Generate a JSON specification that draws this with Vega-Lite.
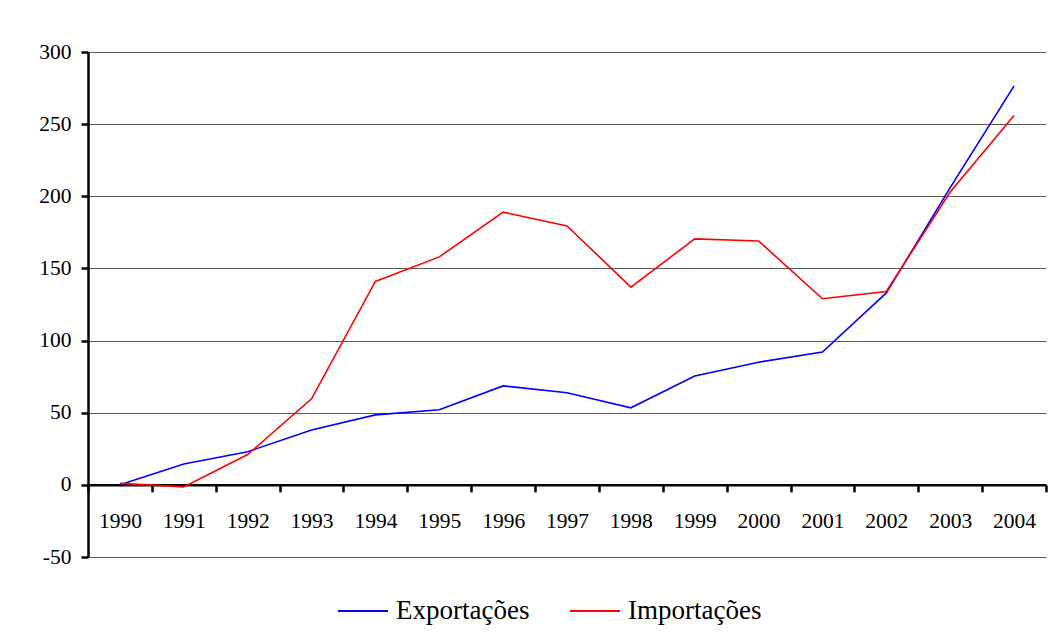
{
  "$schema": "https://vega.github.io/schema/vega-lite/v6.json",
  "width": 958,
  "height": 505,
  "autosize": {"type": "none"},
  "padding": {"left": 88, "top": 52, "right": 12, "bottom": 80},
  "background": "white",
  "config": {
    "view": {"stroke": null},
    "font": "Liberation Serif",
    "axis": {"labelFont": "Liberation Serif"},
    "legend": {"labelFont": "Liberation Serif"}
  },
  "data": {
    "values": [
      {"ano": "1990", "serie": "Exportações", "valor": 0},
      {"ano": "1991", "serie": "Exportações", "valor": 14.5},
      {"ano": "1992", "serie": "Exportações", "valor": 23},
      {"ano": "1993", "serie": "Exportações", "valor": 38},
      {"ano": "1994", "serie": "Exportações", "valor": 48.5},
      {"ano": "1995", "serie": "Exportações", "valor": 52},
      {"ano": "1996", "serie": "Exportações", "valor": 68.6},
      {"ano": "1997", "serie": "Exportações", "valor": 63.8},
      {"ano": "1998", "serie": "Exportações", "valor": 53.4},
      {"ano": "1999", "serie": "Exportações", "valor": 75.5},
      {"ano": "2000", "serie": "Exportações", "valor": 85},
      {"ano": "2001", "serie": "Exportações", "valor": 92},
      {"ano": "2002", "serie": "Exportações", "valor": 133},
      {"ano": "2003", "serie": "Exportações", "valor": 206},
      {"ano": "2004", "serie": "Exportações", "valor": 276.5},
      {"ano": "1990", "serie": "Importações", "valor": 1},
      {"ano": "1991", "serie": "Importações", "valor": -1.4},
      {"ano": "1992", "serie": "Importações", "valor": 21},
      {"ano": "1993", "serie": "Importações", "valor": 59.6},
      {"ano": "1994", "serie": "Importações", "valor": 141},
      {"ano": "1995", "serie": "Importações", "valor": 158},
      {"ano": "1996", "serie": "Importações", "valor": 189},
      {"ano": "1997", "serie": "Importações", "valor": 179.5},
      {"ano": "1998", "serie": "Importações", "valor": 137},
      {"ano": "1999", "serie": "Importações", "valor": 170.5},
      {"ano": "2000", "serie": "Importações", "valor": 169},
      {"ano": "2001", "serie": "Importações", "valor": 129},
      {"ano": "2002", "serie": "Importações", "valor": 134},
      {"ano": "2003", "serie": "Importações", "valor": 203},
      {"ano": "2004", "serie": "Importações", "valor": 256}
    ]
  },
  "mark": {"type": "line", "strokeWidth": 1.6},
  "encoding": {
    "x": {
      "field": "ano",
      "type": "ordinal",
      "scale": {"type": "band", "paddingInner": 0, "paddingOuter": 0},
      "axis": {
        "title": null,
        "offset": -72.14,
        "tickBand": "extent",
        "labelAngle": 0,
        "labelFont": "Liberation Serif",
        "labelFontSize": 21.5,
        "labelColor": "black",
        "labelPadding": 19,
        "tickSize": 7,
        "tickWidth": 2.5,
        "tickColor": "black",
        "domainColor": "black",
        "domainWidth": 2.5,
        "grid": false
      }
    },
    "y": {
      "field": "valor",
      "type": "quantitative",
      "scale": {"domain": [-50, 300], "nice": false, "zero": false},
      "axis": {
        "title": null,
        "values": [-50, 0, 50, 100, 150, 200, 250, 300],
        "labelExpr": "'' + datum.value",
        "labelFont": "Liberation Serif",
        "labelFontSize": 21.5,
        "labelColor": "black",
        "labelPadding": 10,
        "tickSize": 7,
        "tickWidth": 2.5,
        "tickColor": "black",
        "domainColor": "black",
        "domainWidth": 2.5,
        "grid": true,
        "gridColor": "#5a5a5a",
        "gridWidth": 1,
        "gridOpacity": 1
      }
    },
    "color": {
      "field": "serie",
      "type": "nominal",
      "scale": {"domain": ["Exportações", "Importações"], "range": ["#0000ff", "#ff0000"]},
      "legend": {
        "title": null,
        "orient": "none",
        "direction": "horizontal",
        "legendX": 249,
        "legendY": 533,
        "symbolType": "stroke",
        "symbolSize": 2500,
        "symbolStrokeWidth": 2,
        "labelFont": "Liberation Serif",
        "labelFontSize": 27,
        "labelColor": "black",
        "labelOffset": 7,
        "columnPadding": 36
      }
    }
  }
}
